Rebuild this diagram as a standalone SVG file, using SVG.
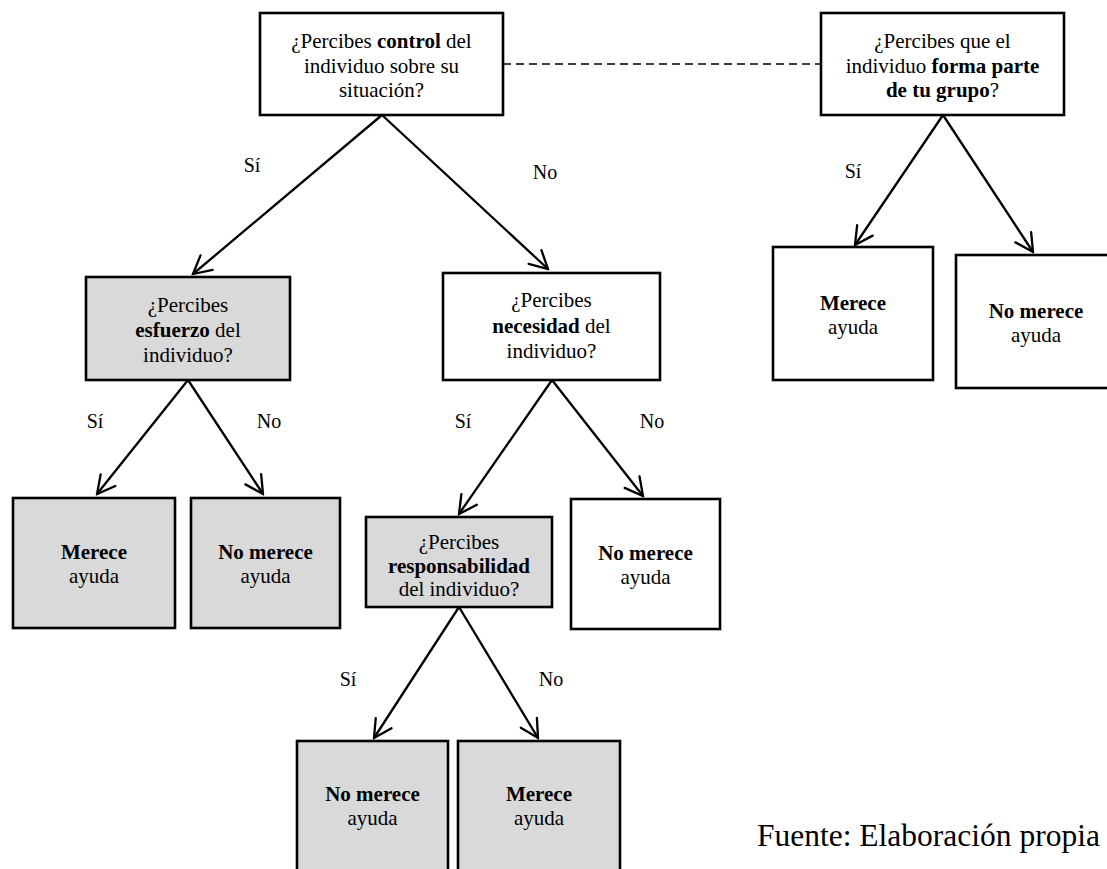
<svg xmlns="http://www.w3.org/2000/svg" width="1107" height="869" viewBox="0 0 1107 869">
<style>
.box{stroke:#000;stroke-width:2.6;fill:#fff}
.gray{fill:#d9d9d9}
.t{font-family:"Liberation Serif","Times New Roman",serif;font-size:21px;fill:#000;text-anchor:middle}
.b{font-weight:bold}
.lbl{font-family:"Liberation Serif","Times New Roman",serif;font-size:20px;fill:#000;text-anchor:middle}
.edge{stroke:#000;stroke-width:2.3;fill:none;marker-end:url(#arr)}
.dash{stroke:#000;stroke-width:1.5;fill:none;stroke-dasharray:8 5}
.foot{font-family:"Liberation Serif","Times New Roman",serif;font-size:31.5px;fill:#000}
</style>
<defs>
<marker id="arr" viewBox="0 0 22 22" refX="20" refY="11" markerWidth="22" markerHeight="22" markerUnits="userSpaceOnUse" orient="auto">
<path d="M2.3,1.6 L20,11 L2.3,20.4" fill="none" stroke="#000" stroke-width="2.3" stroke-linecap="round" stroke-linejoin="miter"/>
</marker>
</defs>
<rect width="1107" height="869" fill="#fff"/>

<g id="connectors">
<line class="dash" x1="503" y1="64" x2="821" y2="64"/>
<line class="edge" x1="382" y1="115" x2="193" y2="274"/>
<line class="edge" x1="382" y1="115" x2="548" y2="269"/>
<line class="edge" x1="943" y1="115" x2="855" y2="245"/>
<line class="edge" x1="943" y1="115" x2="1033" y2="252"/>
<line class="edge" x1="188" y1="380" x2="97" y2="494"/>
<line class="edge" x1="188" y1="380" x2="263" y2="494"/>
<line class="edge" x1="552" y1="380" x2="459" y2="514"/>
<line class="edge" x1="552" y1="380" x2="643" y2="496"/>
<line class="edge" x1="459" y1="607" x2="374" y2="738"/>
<line class="edge" x1="459" y1="607" x2="538" y2="738"/>
</g>

<g id="labels">
<text class="lbl" x="252" y="172">Sí</text>
<text class="lbl" x="545" y="179">No</text>
<text class="lbl" x="853" y="178">Sí</text>
<text class="lbl" x="95" y="428">Sí</text>
<text class="lbl" x="269" y="428">No</text>
<text class="lbl" x="463" y="428">Sí</text>
<text class="lbl" x="652" y="428">No</text>
<text class="lbl" x="348" y="686">Sí</text>
<text class="lbl" x="551" y="686">No</text>
</g>

<g id="n-control">
<rect class="box" x="260" y="13" width="243" height="102"/>
<text class="t" x="381.5" y="48">¿Percibes <tspan class="b">control</tspan> del</text>
<text class="t" x="381.5" y="72.5">individuo sobre su</text>
<text class="t" x="381.5" y="97">situación?</text>
</g>

<g id="n-grupo">
<rect class="box" x="821" y="13" width="243" height="102"/>
<text class="t" x="942.5" y="48">¿Percibes que el</text>
<text class="t" x="942.5" y="72.5">individuo <tspan class="b">forma parte</tspan></text>
<text class="t" x="942.5" y="97"><tspan class="b">de tu grupo</tspan>?</text>
</g>

<g id="n-grupo-si">
<rect class="box" x="773" y="247" width="160" height="133"/>
<text class="t b" x="853" y="310">Merece</text>
<text class="t" x="853" y="334">ayuda</text>
</g>

<g id="n-grupo-no">
<rect class="box" x="956" y="255" width="160" height="133"/>
<text class="t b" x="1036" y="318">No merece</text>
<text class="t" x="1036" y="342">ayuda</text>
</g>

<g id="n-esfuerzo">
<rect class="box gray" x="86" y="277" width="204" height="103"/>
<text class="t" x="188" y="312">¿Percibes</text>
<text class="t" x="188" y="337"><tspan class="b">esfuerzo</tspan> del</text>
<text class="t" x="188" y="362">individuo?</text>
</g>

<g id="n-esfuerzo-si">
<rect class="box gray" x="13" y="498" width="162" height="130"/>
<text class="t b" x="94" y="559">Merece</text>
<text class="t" x="94" y="583">ayuda</text>
</g>

<g id="n-esfuerzo-no">
<rect class="box gray" x="191" y="498" width="149" height="130"/>
<text class="t b" x="265.5" y="559">No merece</text>
<text class="t" x="265.5" y="583">ayuda</text>
</g>

<g id="n-necesidad">
<rect class="box" x="443" y="273" width="217" height="107"/>
<text class="t" x="551.5" y="307">¿Percibes</text>
<text class="t" x="551.5" y="333"><tspan class="b">necesidad</tspan> del</text>
<text class="t" x="551.5" y="358">individuo?</text>
</g>

<g id="n-necesidad-no">
<rect class="box" x="571" y="499" width="149" height="130"/>
<text class="t b" x="645.5" y="560">No merece</text>
<text class="t" x="645.5" y="584">ayuda</text>
</g>

<g id="n-responsabilidad">
<rect class="box gray" x="366" y="517" width="186" height="90"/>
<text class="t" x="459" y="549">¿Percibes</text>
<text class="t b" x="459" y="573">responsabilidad</text>
<text class="t" x="459" y="596">del individuo?</text>
</g>

<g id="n-resp-si">
<rect class="box gray" x="297" y="741" width="151" height="140"/>
<text class="t b" x="372.5" y="801">No merece</text>
<text class="t" x="372.5" y="825">ayuda</text>
</g>

<g id="n-resp-no">
<rect class="box gray" x="458" y="741" width="162" height="140"/>
<text class="t b" x="539" y="801">Merece</text>
<text class="t" x="539" y="825">ayuda</text>
</g>

<text class="foot" x="757" y="846">Fuente: Elaboración propia</text>
</svg>
